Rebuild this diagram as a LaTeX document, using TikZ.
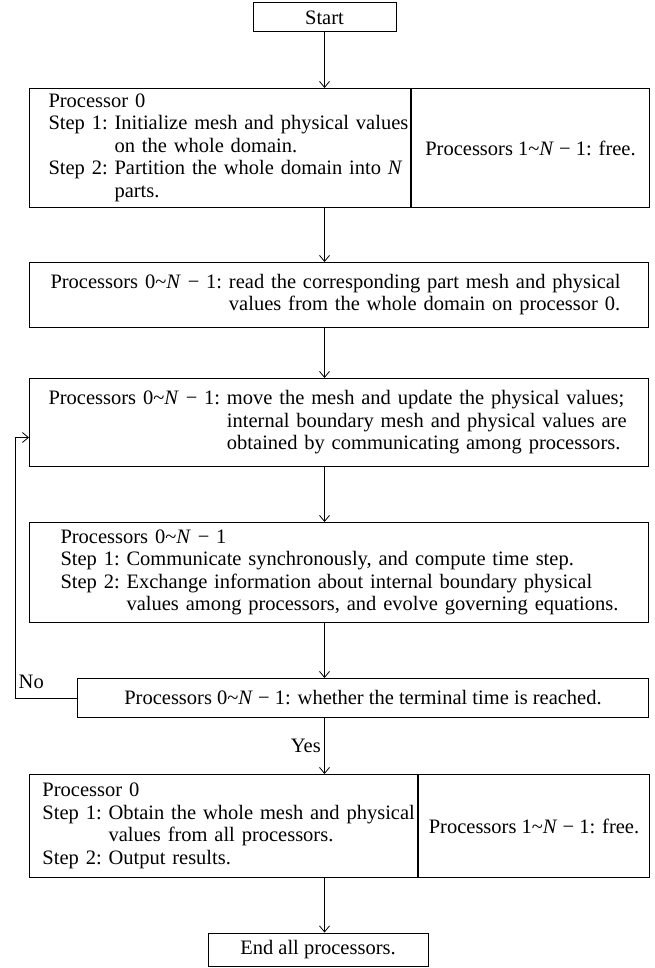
\documentclass[tikz,border=0pt]{standalone}
\usepackage{fontspec}
\setmainfont{Liberation Serif}
\usetikzlibrary{arrows.meta, positioning}

\newcommand{\procs}[1]{Processors #1\textasciitilde\textit{N} − 1}

\begin{document}
\begin{tikzpicture}[
    x=1pt, y=-1pt,
    font=\fontsize{20.5}{22.5}\selectfont,
    >={Straight Barb[length=6pt, width=10pt]},
    procbox/.style={draw, line width=1pt, inner sep=0pt, align=left},
    midbox/.style={procbox, align=center},
    arrow/.style={->, line width=0.8pt}
]
    \useasboundingbox (0,0) rectangle (654,968);

    \node[midbox, minimum width=143pt, minimum height=29pt] (start) at (324.5,17.5) {Start};

    \node[procbox, anchor=north west, text width=381pt, minimum height=119pt] (initL) at (29,88) {%
        \begin{tabular}{@{\hspace{19pt}}l@{\ }l@{}}
            \multicolumn{2}{@{\hspace{19pt}}l}{Processor 0}\\
            Step 1: & Initialize mesh and physical values\\
                    & on the whole domain.\\
            Step 2: & Partition the whole domain into \textit{N}\\
                    & parts.
        \end{tabular}};
    \node[midbox, right=0pt of initL, minimum width=238pt, minimum height=119pt] (initR) {\procs{1}: free.};

    \node[procbox, anchor=north west, text width=619pt, minimum height=65pt] (read) at (29,262) {%
        \begin{tabular}{@{\hspace{21pt}}l@{\ }l@{}}
            \procs{0}: & read the corresponding part mesh and physical\\
                       & values from the whole domain on processor 0.
        \end{tabular}};

    \node[procbox, anchor=north west, text width=619pt, minimum height=88pt] (move) at (29,378) {%
        \begin{tabular}{@{\hspace{19pt}}l@{\ }l@{}}
            \procs{0}: & move the mesh and update the physical values;\\
                       & internal boundary mesh and physical values are\\
                       & obtained by communicating among processors.
        \end{tabular}};

    \node[procbox, anchor=north west, text width=619pt, minimum height=100pt] (evolve) at (29,522) {%
        \begin{tabular}{@{\hspace{31pt}}l@{\ }l@{}}
            \multicolumn{2}{@{\hspace{31pt}}l}{\procs{0}}\\
            Step 1: & Communicate synchronously, and compute time step.\\
            Step 2: & Exchange information about internal boundary physical\\
                    & values among processors, and evolve governing equations.
        \end{tabular}};

    \node[midbox, anchor=north west, minimum width=571pt, minimum height=39pt] (check) at (77,678) {\procs{0}: whether the terminal time is reached.};

    \node[procbox, anchor=north west, text width=388pt, minimum height=103pt] (gatherL) at (29,774) {%
        \begin{tabular}{@{\hspace{13pt}}l@{\ }l@{}}
            \multicolumn{2}{@{\hspace{13pt}}l}{Processor 0}\\
            Step 1: & Obtain the whole mesh and physical\\
                    & values from all processors.\\
            Step 2: & Output results.
        \end{tabular}};
    \node[midbox, right=0pt of gatherL, minimum width=231pt, minimum height=103pt] (gatherR) {\procs{1}: free.};

    \node[midbox, minimum width=220pt, minimum height=33pt] (finish) at (318,949.5) {End all processors.};

    % main flow
    \draw[arrow] (start) -- (start |- initL.north);
    \draw[arrow] (initL.south -| start) -- (read.north -| start);
    \draw[arrow] (read.south -| start) -- (move.north -| start);
    \draw[arrow] (move.south -| start) -- (evolve.north -| start);
    \draw[arrow] (evolve.south -| start) -- (check.north -| start);
    \draw[arrow] (check.south -| start) -- node[left] (yes) {Yes} (gatherL.north -| start);
    \draw[arrow] (gatherL.south -| start) -- (finish.north -| start);

    % loop back
    \coordinate (loopin) at ([yshift=-15pt]move.west);
    \draw[arrow] (check.west) -- ++(-62,0) node[above right, yshift=6pt] (no) {No} |- (loopin);
\end{tikzpicture}
\end{document}
